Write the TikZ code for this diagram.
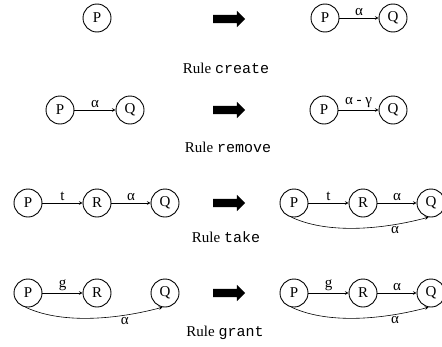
\documentclass[tikz,border=0pt]{standalone}
\usepackage{fontspec}
\setmainfont{Liberation Serif}
\setmonofont{Liberation Mono}
\usetikzlibrary{shapes.arrows}
\tikzset{
  state/.style={draw, circle, line width=0.9bp, minimum size=28bp, inner sep=0pt},
  edge/.style={->, >=stealth, line width=0.6bp},
  imply/.style={single arrow, fill=black, draw=none, minimum height=32bp, inner xsep=0pt, inner ysep=4bp, single arrow head extend=4bp},
  lbl/.style={inner sep=2bp}
}
\newcommand{\rulename}[1]{Rule \texttt{#1}}

\begin{document}
\begin{tikzpicture}[x=1bp, y=1bp, font=\fontsize{15bp}{17bp}\selectfont]
        \useasboundingbox (0,0) rectangle (442,346);
        % create
        \node[state] (P1) at (97,328) {P};
        \node[imply] (T1) at (227,327) {};
        \node[state] (P1r) at (325,328) {P};
        \node[state] (Q1r) at (393,328) {Q};
        \draw[edge] (P1r) -- node[lbl, above] {α} (Q1r);
        \node (L1) at (226,278) {\rulename{create}};
        % remove
        \node[state] (P2) at (60,236) {P};
        \node[state] (Q2) at (130,236) {Q};
        \draw[edge] (P2) -- node[lbl, above] {α} (Q2);
        \node[imply] (T2) at (227,236) {};
        \node[state] (P2r) at (324,236) {P};
        \node[state] (Q2r) at (393,236) {Q};
        \draw[edge] (P2r) -- node[lbl, above] {α - γ} (Q2r);
        \node (L2) at (228,199) {\rulename{remove}};
        % take
        \node[state] (P3) at (28,143) {P};
        \node[state] (R3) at (97,143) {R};
        \node[state] (Q3) at (165,143) {Q};
        \draw[edge] (P3) -- node[lbl, above] {t} (R3);
        \draw[edge] (R3) -- node[lbl, above] {α} (Q3);
        \node[imply] (T3) at (227,143) {};
        \node[state] (P3r) at (294,143) {P};
        \node[state] (R3r) at (363,143) {R};
        \node[state] (Q3r) at (431,143) {Q};
        \draw[edge] (P3r) -- node[lbl, above] {t} (R3r);
        \draw[edge] (R3r) -- node[lbl, above] {α} (Q3r);
        \draw[edge] (P3r.-100) to[out=-25, in=-165, looseness=0.8] node[pos=0.75, lbl, below] {α} (Q3r.-100);
        \node (L3) at (226,109) {\rulename{take}};
        % grant
        \node[state] (P4) at (28,53) {P};
        \node[state] (R4) at (97,53) {R};
        \node[state] (Q4) at (165,53) {Q};
        \draw[edge] (P4) -- node[lbl, above] {g} (R4);
        \draw[edge] (P4.-100) to[out=-25, in=-165, looseness=0.8] node[pos=0.72, lbl, below] {α} (Q4.-100);
        \node[imply] (T4) at (227,53) {};
        \node[state] (P4r) at (294,53) {P};
        \node[state] (R4r) at (363,53) {R};
        \node[state] (Q4r) at (431,53) {Q};
        \draw[edge] (P4r) -- node[lbl, above] {g} (R4r);
        \draw[edge] (R4r) -- node[lbl, above] {α} (Q4r);
        \draw[edge] (P4r.-100) to[out=-25, in=-165, looseness=0.8] node[pos=0.75, lbl, below] {α} (Q4r.-100);
        \node (L4) at (225,13) {\rulename{grant}};
\end{tikzpicture}
\end{document}
